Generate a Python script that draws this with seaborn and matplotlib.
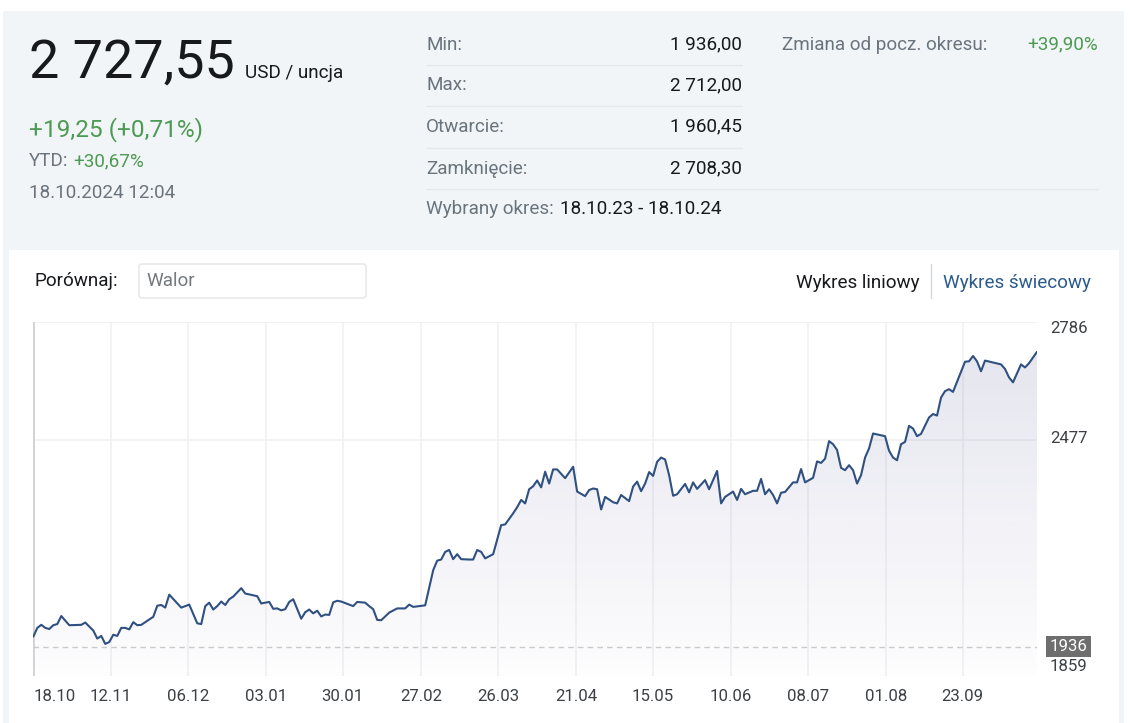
import numpy as np
import matplotlib
matplotlib.use("Agg")
import matplotlib.pyplot as plt
from matplotlib.colors import LinearSegmentedColormap
from matplotlib.patches import Rectangle, FancyBboxPatch
import seaborn as sns

# dane: numer sesji i kurs
sessions = [0, 1, 2, 3, 4, 5, 6, 7, 9, 12, 13, 15, 16, 17, 18, 19, 20, 21, 22, 23, 24, 25, 26, 27, 30,
            31, 32, 33, 34, 37, 39, 41, 42, 43, 44, 45, 46, 47, 48, 49, 50, 52, 53, 56, 57, 59, 60, 61,
            62, 63, 64, 65, 67, 68, 69, 70, 71, 72, 73, 74, 75, 76, 77, 80, 81, 83, 84, 85, 86, 87, 89,
            91, 93, 94, 95, 98, 100, 101, 102, 103, 104, 105, 106, 107, 109, 110, 111, 112, 113, 115,
            117, 118, 120, 121, 122, 123, 124, 125, 126, 127, 128, 129, 130, 131, 133, 135, 136, 138,
            139, 140, 141, 142, 143, 145, 146, 147, 149, 150, 151, 152, 153, 154, 155, 156, 157, 158,
            159, 160, 161, 163, 164, 165, 166, 168, 169, 171, 172, 173, 175, 176, 177, 178, 180, 181,
            182, 183, 184, 185, 186, 187, 188, 190, 191, 192, 193, 195, 196, 197, 198, 199, 200, 201,
            202, 203, 204, 205, 206, 207, 208, 209, 210, 213, 214, 215, 216, 217, 218, 219, 220, 221,
            222, 224, 225, 226, 227, 228, 229, 230, 232, 233, 234, 235, 236, 237, 238, 242, 243, 244,
            245, 247, 248, 249, 250, 251]
prices = [1962, 1985, 1993, 1985, 1982, 1992, 1995, 2016, 1992, 1993, 1999, 1978, 1957, 1964, 1943, 1948,
          1967, 1964, 1985, 1985, 1981, 2000, 1992, 1993, 2014, 2043, 2045, 2038, 2072, 2038, 2046, 1997,
          1995, 2042, 2051, 2033, 2042, 2054, 2045, 2060, 2067, 2089, 2075, 2068, 2049, 2053, 2035, 2036,
          2031, 2034, 2053, 2060, 2009, 2026, 2033, 2023, 2030, 2015, 2020, 2019, 2052, 2056, 2054, 2042,
          2053, 2051, 2042, 2034, 2006, 2005, 2025, 2036, 2036, 2046, 2040, 2044, 2136, 2161, 2164, 2184,
          2189, 2165, 2178, 2165, 2164, 2164, 2189, 2184, 2167, 2178, 2254, 2256, 2285, 2301, 2320, 2311,
          2348, 2356, 2371, 2353, 2394, 2363, 2400, 2400, 2377, 2407, 2342, 2330, 2346, 2350, 2348, 2295,
          2328, 2314, 2311, 2333, 2317, 2355, 2368, 2343, 2363, 2393, 2383, 2420, 2431, 2426, 2385, 2331,
          2335, 2362, 2340, 2366, 2349, 2372, 2348, 2396, 2311, 2328, 2342, 2320, 2349, 2335, 2344, 2344,
          2375, 2335, 2348, 2333, 2311, 2339, 2341, 2366, 2366, 2401, 2366, 2378, 2421, 2417, 2428, 2474,
          2466, 2451, 2404, 2398, 2411, 2398, 2363, 2385, 2431, 2455, 2494, 2487, 2449, 2431, 2424, 2466,
          2472, 2514, 2507, 2487, 2493, 2536, 2545, 2541, 2588, 2605, 2610, 2603, 2656, 2682, 2683, 2697,
          2683, 2657, 2685, 2675, 2663, 2641, 2628, 2675, 2667, 2678, 2693, 2708]
tick_pos = [0, 19.4, 38.7, 58.2, 77.4, 96.9, 116.2, 135.7, 154.9, 174.4, 193.7, 213.2, 232.4]
tick_labels = ["18.10", "12.11", "06.12", "03.01", "30.01", "27.02", "26.03", "21.04",
               "15.05", "10.06", "08.07", "01.08", "23.09"]
y_labels = [2786, 2477, 1859]
y_offsets = [-4.7, 0.8, 6.8]
period_min = 1936

stat_names = ["Min:", "Max:", "Otwarcie:", "Zamknięcie:"]
stat_values = ["1\u00a0936,00", "2\u00a0712,00", "1\u00a0960,45", "2\u00a0708,30"]

W, H = 1132, 723
GRAY = "#6a747d"
DARK = "#17191c"
GREEN = "#4d9a52"
BLUE = "#2b5b8c"
GRID = "#f0f0f4"

sns.set_theme(style="white")
plt.rcParams["font.family"] = ["Roboto", "DejaVu Sans"]

fig = plt.figure(figsize=(W / 100, H / 100), dpi=100, facecolor="white")

# tlo strony w pikselach
bg = fig.add_axes([0, 0, 1, 1])
bg.set_xlim(0, W)
bg.set_ylim(H, 0)
bg.axis("off")
bg.add_patch(Rectangle((3, 11), 1121, 712, color="#f2f5f8", lw=0))
bg.add_patch(Rectangle((9, 250), 1110, 473, color="white", lw=0))


def label(x, y, s, size=13.6, color=GRAY, ha="left"):
    bg.text(x, y + 1.5, s, fontsize=size, color=color, ha=ha, va="center")


label(29, 62, "2\u00a0727,55", size=38.8, color=DARK)
label(245, 72, "USD / uncja", color=DARK)
label(29, 128, "+19,25 (+0,71%)", size=17.6, color=GREEN)
label(29, 160, "YTD:")
label(73, 160, "+30,67%", color=GREEN)
label(29, 192, "18.10.2024 12:04")

for name, value, y in zip(stat_names, stat_values, [43, 84, 125, 167]):
    label(426, y, name)
    label(742, y, value, color=DARK, ha="right")
for y in [65, 106, 148]:
    bg.plot([426, 742], [y, y], color="#e4e8ec", lw=1)
bg.plot([426, 1098], [189, 189], color="#e4e8ec", lw=1)
label(426, 208, "Wybrany okres:")
label(560, 208, "18.10.23 - 18.10.24", color=DARK)
label(782, 43, "Zmiana od pocz. okresu:")
label(1098, 43, "+39,90%", color=GREEN, ha="right")

label(35, 280, "Porównaj:", color=DARK)
bg.add_patch(FancyBboxPatch((139, 264), 227, 34, boxstyle="round,pad=0,rounding_size=3",
                            fc="white", ec="#e2e4e7", lw=1))
label(146, 280, "Walor", color="#75797d")
label(920, 281, "Wykres liniowy", color=DARK, ha="right")
bg.plot([931, 931], [264, 298], color="#d5d8dc", lw=1)
label(943, 281, "Wykres świecowy", color=BLUE)

# wykres
ax = fig.add_axes([33.3 / W, 1 - 676 / H, (1037 - 33.3) / W, (676 - 322) / H])
ax.patch.set_alpha(0)
sns.despine(ax=ax, top=True, right=True, bottom=True, left=True)

area = ax.fill_between(sessions, prices, 1859, color="none", lw=0)
grad_cmap = LinearSegmentedColormap.from_list(
    "area", [(0.36, 0.36, 0.60, 0.012), (0.36, 0.36, 0.60, 0.17)])
grad = ax.imshow(np.linspace(0, 1, 256).reshape(-1, 1), cmap=grad_cmap, origin="lower", aspect="auto",
                 extent=[0, 251, 1859, 2786], zorder=1.5)
grad.set_clip_path(area.get_paths()[0], transform=ax.transData)

ax.vlines(tick_pos[1:], 1859, 2786, color=GRID, lw=1.1, zorder=1)
ax.hlines([2786, 2477], 0, 251, color=GRID, lw=1.1, zorder=1)
ax.axvline(0, color="#d2d2d6", lw=2, zorder=2)
ax.axhline(period_min, color="#cacacd", lw=1, ls=(0, (4, 3)), zorder=2)
sns.lineplot(x=sessions, y=prices, ax=ax, color="#2f5080", lw=1.5, zorder=3)

ax.set_xlim(0, 251)
ax.set_ylim(1859, 2786)
ax.set_xticks(tick_pos, tick_labels)
ax.set_yticks([])
ax.set_xlabel("")
ax.set_ylabel("")
ax.tick_params(axis="x", length=0, pad=9.5, labelsize=12.1, labelcolor="#3c4044")
ax.get_xticklabels()[0].set_ha("left")

for val, off in zip(y_labels, y_offsets):
    ax.annotate(str(val), xy=(1, val), xycoords=("axes fraction", "data"), xytext=(9.2, off),
                textcoords="offset points", fontsize=12.1, color="#3c4044", ha="left", va="center",
                annotation_clip=False)
ax.annotate(str(period_min), xy=(1, period_min), xycoords=("axes fraction", "data"), xytext=(22.5, 0),
            textcoords="offset points", fontsize=12.1, color="white", ha="center", va="center",
            annotation_clip=False, zorder=5,
            bbox=dict(boxstyle="square,pad=0.2", fc="#6e6e6e", ec="none"))

fig.savefig("out.png", dpi=100)
